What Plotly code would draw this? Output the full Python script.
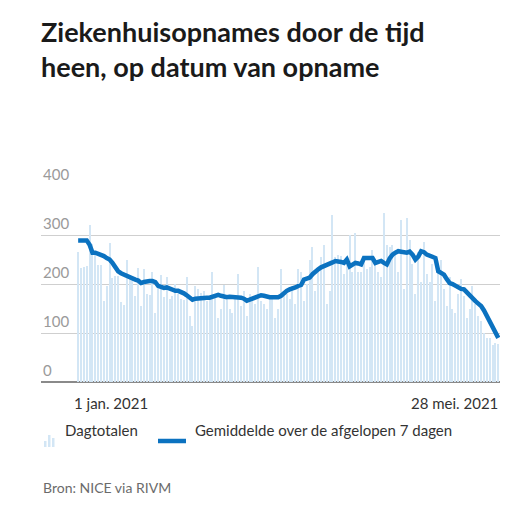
import pandas as pd
import plotly.graph_objects as go

# Daily hospital admissions, 1 Jan 2021 - 28 May 2021
dagtotalen = [
    265, 232, 235, 236, 320, 282, 268, 238, 238, 165,
    196, 283, 212, 216, 217, 163, 158, 248, 217, 210,
    175, 232, 155, 230, 180, 178, 225, 140, 195, 218,
    173, 215, 170, 175, 200, 180, 170, 168, 215, 135,
    115, 195, 190, 182, 185, 165, 170, 225, 175, 130,
    150, 197, 168, 148, 140, 178, 220, 155, 185, 135,
    180, 170, 160, 235, 165, 160, 150, 170, 175, 130,
    150, 230, 175, 180, 170, 195, 160, 230, 225, 165,
    200, 250, 275, 185, 225, 255, 280, 160, 185, 340,
    255, 260, 258, 220, 245, 300, 225, 305, 225, 225,
    255, 230, 235, 270, 240, 225, 215, 345, 280, 275,
    280, 260, 225, 330, 190, 335, 290, 240, 180, 265,
    205, 285, 220, 205, 240, 165, 225, 250, 190, 155,
    215, 150, 140, 180, 210, 175, 130, 150, 195, 160,
    135, 125, 100, 90, 90, 75, 80, 78,
]
gemiddelde = [
    289, 289, 289, 289, 280, 264, 264, 262, 260, 257,
    253, 250, 243, 234, 226, 222, 219, 216, 214, 212,
    209, 207, 202, 204, 206, 206, 206, 204, 196, 194,
    192, 193, 190, 187, 186, 186, 184, 181, 177, 172,
    168, 170, 171, 171, 171, 172, 172, 174, 177, 178,
    176, 174, 173, 174, 174, 173, 173, 172, 170, 166,
    168, 170, 172, 175, 177, 176, 174, 173, 173, 172,
    173, 176, 182, 186, 189, 190, 193, 196, 198, 209,
    211, 213, 220, 226, 230, 234, 236, 238, 240, 244,
    247, 247, 245, 243, 250, 236, 240, 243, 242, 240,
    253, 253, 253, 253, 243, 245, 247, 243, 240, 252,
    260, 264, 267, 266, 264, 264, 266, 260, 250, 256,
    267, 265, 260, 257, 254, 253, 226, 223, 219, 210,
    202, 200, 196, 192, 190, 189, 183, 176, 168, 165,
    160, 155, 146, 134, 122, 110, 100, 90,
]
datums = pd.date_range("2021-01-01", periods=len(dagtotalen), freq="D")
y_ticks = [0, 100, 200, 300, 400]

BAR = "#d3e6f5"
LINE = "#0b72c0"
GREY = "#6b6b6b"
FONT = "Lato"

fig = go.Figure()
fig.add_trace(go.Bar(x=datums, y=dagtotalen, marker_color=BAR, marker_line_width=0,
                     width=0.4 * 86400000))
fig.add_trace(go.Scatter(x=datums, y=gemiddelde, mode="lines",
                         line=dict(color=LINE, width=4.5, shape="linear")))

fig.update_layout(
    width=528, height=528, showlegend=False,
    margin=dict(l=33, r=36, t=178, b=154),
    plot_bgcolor="white", paper_bgcolor="white",
    font=dict(family=FONT, color=GREY),
    title=dict(text="<b>Ziekenhuisopnames door de tijd<br>heen, op datum van opname</b>",
               x=33 / 528, xanchor="left", y=0.935, yanchor="top",
               font=dict(size=27, color="#1a1a1a", family=FONT)),
    bargap=0,
)
fig.update_xaxes(range=[datums[0] - pd.Timedelta(days=13), datums[-1] + pd.Timedelta(days=0.6)],
                 showticklabels=False, showgrid=False, zeroline=False)
fig.update_yaxes(range=[0, 400], tickvals=y_ticks, showticklabels=False,
                 gridcolor="#cfcfcf", gridwidth=1, zeroline=True,
                 zerolinecolor="#8a8a8a", zerolinewidth=1.5)

for v in y_ticks:
    fig.add_annotation(x=0, xref="paper", y=v, yref="y", text=str(v), showarrow=False,
                       xanchor="left", yanchor="bottom", yshift=1,
                       font=dict(size=15, color="#9a9a9a"))

fig.add_annotation(x=datums[0], xref="x", y=-0.05, yref="paper", text="1 jan. 2021",
                   showarrow=False, xanchor="left", yanchor="top", xshift=-6,
                   font=dict(size=15, color="#333"))
fig.add_annotation(x=1, xref="paper", y=-0.05, yref="paper", text="28 mei. 2021",
                   showarrow=False, xanchor="right", yanchor="top",
                   font=dict(size=15, color="#333"))

# legend
def px_x(p):
    return (p - 33) / 459

def px_y(p):
    return (374 - p) / 196

for i, h in enumerate([6, 12, 9]):
    x0 = 36 + i * 4
    fig.add_shape(type="rect", xref="paper", yref="paper",
                  x0=px_x(x0), x1=px_x(x0 + 2.5), y0=px_y(439), y1=px_y(439 - h),
                  fillcolor=BAR, line_width=0)
fig.add_annotation(x=px_x(55), xref="paper", y=px_y(433), yref="paper", text="Dagtotalen",
                   showarrow=False, xanchor="left", font=dict(size=15, color="#333"))
fig.add_shape(type="line", xref="paper", yref="paper",
              x0=px_x(150), x1=px_x(178), y0=px_y(433), y1=px_y(433),
              line=dict(color=LINE, width=4.5))
fig.add_annotation(x=px_x(185), xref="paper", y=px_y(433), yref="paper",
                   text="Gemiddelde over de afgelopen 7 dagen",
                   showarrow=False, xanchor="left", font=dict(size=15, color="#333"))
fig.add_annotation(x=px_x(33), xref="paper", y=px_y(490), yref="paper", text="Bron: NICE via RIVM",
                   showarrow=False, xanchor="left", font=dict(size=14, color=GREY))

fig.write_html("out.html")
